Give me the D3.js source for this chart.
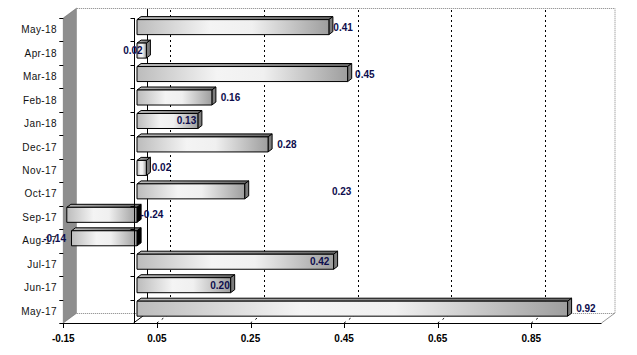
<!DOCTYPE html>
<html><head><meta charset="utf-8">
<script src="https://cdn.jsdelivr.net/npm/d3@7/dist/d3.min.js"></script>
<style>html,body{margin:0;padding:0;background:#fff;}svg{display:block;}</style>
</head><body>
<div id="chart"></div>
<script>
// ---- data ----
const categories = ["May-17","Jun-17","Jul-17","Aug-17","Sep-17","Oct-17","Nov-17","Dec-17","Jan-18","Feb-18","Mar-18","Apr-18","May-18"];
const values = [0.92,0.20,0.42,-0.14,-0.24,0.23,0.02,0.28,0.13,0.16,0.45,0.02,0.41];
const valueLabels = ["0.92","0.20","0.42","-0.14","-0.24","0.23","0.02","0.28","0.13","0.16","0.45","0.02","0.41"];
// where each data label starts, in value units
const labelAnchor = [0.946,0.164,0.377,-0.193,0.015,0.424,0.039,0.307,0.0925,0.1865,0.4735,-0.022,0.427];
const xTicks = [-0.15,0.05,0.25,0.45,0.65,0.85];
const xTickLabels = ["-0.15","0.05","0.25","0.45","0.65","0.85"];
const xDomain = [-0.15, 1.0];

// ---- layout ----
const W = 637, H = 355;
const pL = 63.3, pR = 601.5, pT = 18, pB = 323;
const DX = 13.5, DY = -10;          // depth offset of the back wall
const F0 = 0.26, F1 = 0.56;          // bar front / back depth fractions

const svg = d3.select("#chart").append("svg").attr("width", W).attr("height", H);
const defs = svg.append("defs");

const x = d3.scaleLinear().domain(xDomain).range([pL, pR]);
const y = d3.scaleBand().domain(categories).range([pB, pT]);

const gFront = defs.append("linearGradient").attr("id","gFront");
[[0,"#bcbcbc"],[0.38,"#f4f4f4"],[0.6,"#f0f0f0"],[1,"#9e9e9e"]].forEach(s=>gFront.append("stop").attr("offset",s[0]).attr("stop-color",s[1]));
const gTop = defs.append("linearGradient").attr("id","gTop");
[[0,"#b8b8b8"],[1,"#666666"]].forEach(s=>gTop.append("stop").attr("offset",s[0]).attr("stop-color",s[1]));

const pt = (px,py)=>px.toFixed(1)+","+py.toFixed(1);

// left side wall
svg.append("polygon")
  .attr("points",[pt(pL,pT),pt(pL+DX,pT+DY),pt(pL+DX,pB+DY),pt(pL,pB)].join(" "))
  .attr("fill","#8e8e8e").attr("stroke","#6a6a6a").attr("stroke-width",0.6);

// back wall
svg.append("rect").attr("x",pL+DX).attr("y",pT+DY).attr("width",pR-pL).attr("height",pB-pT).attr("fill","#fff");
svg.append("path")
  .attr("d",`M${pL+DX},${pT+DY+0.5}H${pR+DX}V${pB+DY}`)
  .attr("fill","none").attr("stroke","#808080").attr("stroke-width",1).attr("stroke-dasharray","1,1");
// floor back edge & right edge
svg.append("path").attr("d",`M${pL+DX},${pB+DY+0.5}H${pR+DX}`)
  .attr("fill","none").attr("stroke","#808080").attr("stroke-dasharray","1,1");
svg.append("path").attr("d",`M${pR},${pB}L${pR+DX},${pB+DY}`)
  .attr("fill","none").attr("stroke","#9a9a9a");

// back gridlines (dotted)
const grid = svg.append("g");
xTicks.filter(t=>t>xDomain[0]).forEach(t=>{
  const gx = Math.round(x(t)+DX)+0.5;
  grid.append("line").attr("x1",gx).attr("x2",gx).attr("y1",pT+DY+2).attr("y2",pB+DY)
    .attr("stroke","#000").attr("stroke-dasharray","2,3");
  grid.append("line").attr("x1",x(t)).attr("x2",x(t)+DX).attr("y1",pB).attr("y2",pB+DY)
    .attr("stroke","#000").attr("stroke-dasharray","2,4");
});
// back zero line
const bz = Math.round(x(0)+DX)+0.5;
svg.append("line").attr("x1",bz).attr("x2",bz).attr("y1",pT+DY+1).attr("y2",pB+DY).attr("stroke","#000");
svg.append("line").attr("x1",x(0)).attr("x2",x(0)+DX).attr("y1",pB).attr("y2",pB+DY).attr("stroke","#000");

// bars
const bw = y.bandwidth();
const barH = bw*0.64;
const tdx = DX*(F1-F0), tdy = DY*(F1-F0);
const bars = svg.append("g");
categories.forEach((c,i)=>{
  const v = values[i];
  const lo = Math.max(Math.min(v,0), xDomain[0]);
  const hi = Math.max(v,0);
  const xa = x(lo)+DX*F0, xb = x(hi)+DX*F0;
  const ya = y(c)+(bw-barH)/2+DY*F0, yb = ya+barH;
  const g = bars.append("g").attr("stroke","#000").attr("stroke-width",1).attr("stroke-linejoin","round");
  g.append("polygon").attr("points",[pt(xa,ya),pt(xb,ya),pt(xb+tdx,ya+tdy),pt(xa+tdx,ya+tdy)].join(" ")).attr("fill","url(#gTop)");
  g.append("polygon").attr("points",[pt(xb,ya),pt(xb+tdx,ya+tdy),pt(xb+tdx,yb+tdy),pt(xb,yb)].join(" ")).attr("fill", v<0?"#000":"#7c7c7c");
  g.append("rect").attr("x",xa).attr("y",ya).attr("width",xb-xa).attr("height",barH).attr("fill","url(#gFront)");
});

// front x axis
const ax = svg.append("g");
ax.append("line").attr("x1",pL).attr("x2",pR).attr("y1",pB+0.5).attr("y2",pB+0.5).attr("stroke","#000");
xTicks.forEach((t,i)=>{
  const tx = Math.round(x(t))+0.5;
  ax.append("line").attr("x1",tx).attr("x2",tx).attr("y1",pB).attr("y2",pB+5).attr("stroke","#000");
  ax.append("text").attr("x",x(t)).attr("y",338).attr("dy","0.35em").attr("text-anchor","middle")
    .attr("font-family","Liberation Sans, Arial, sans-serif").attr("font-size",10).attr("font-weight","bold")
    .attr("fill","#000").text(xTickLabels[i]);
});

// category axis at zero (front) + left ticks
const zx = Math.round(x(0))+0.5;
ax.append("line").attr("x1",zx).attr("x2",zx).attr("y1",pT).attr("y2",pB).attr("stroke","#000");
const bounds = categories.map(c=>y(c)).concat([pB]);
bounds.forEach(b=>{
  const by = Math.round(b)+0.5;
  ax.append("line").attr("x1",zx-4).attr("x2",zx).attr("y1",by).attr("y2",by).attr("stroke","#000");
  ax.append("line").attr("x1",pL-4).attr("x2",pL).attr("y1",by).attr("y2",by).attr("stroke","#000");
});
categories.forEach(c=>{
  ax.append("text").attr("x",57).attr("y",y(c)+bw/2).attr("dy","0.35em").attr("text-anchor","end")
    .attr("font-family","Liberation Sans, Arial, sans-serif").attr("font-size",10).attr("letter-spacing","0.4px")
    .attr("fill","#111").text(c);
});

// data labels
const lab = svg.append("g");
categories.forEach((c,i)=>{
  const ly = y(c)+(bw-barH)/2+DY*F0+barH/2;
  lab.append("text").attr("x",x(labelAnchor[i])).attr("y",ly).attr("dy","0.35em")
    .attr("font-family","Liberation Sans, Arial, sans-serif").attr("font-size",10).attr("font-weight","bold")
    .attr("fill","#0d0d4d").text(valueLabels[i]);
});
</script>
</body></html>
